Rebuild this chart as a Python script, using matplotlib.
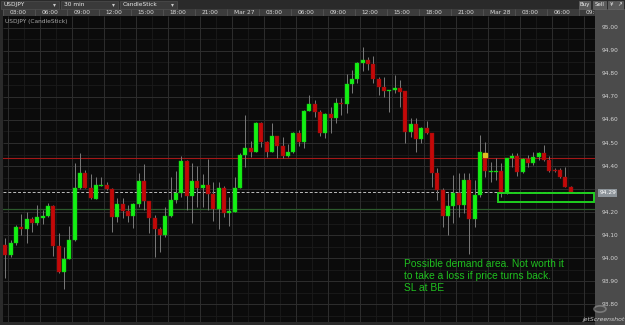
import matplotlib
matplotlib.use('Agg')
import matplotlib.pyplot as plt
from matplotlib.patches import Rectangle, Circle
import numpy as np

# USDJPY 30 min candles, Mar 26 02:30 -> Mar 28 07:30
opens = [94.055, 94.014, 94.067, 94.133, 94.125, 94.168, 94.153, 94.175, 94.184, 94.227,
         94.053, 93.938, 93.996, 94.078, 94.303, 94.370, 94.303, 94.258, 94.314, 94.319,
         94.299, 94.177, 94.233, 94.204, 94.184, 94.233, 94.333, 94.247, 94.174, 94.126,
         94.099, 94.181, 94.252, 94.284, 94.422, 94.270, 94.333, 94.303, 94.317, 94.278,
         94.214, 94.306, 94.194, 94.201, 94.306, 94.447, 94.477, 94.462, 94.588, 94.506,
         94.462, 94.530, 94.487, 94.443, 94.461, 94.542, 94.506, 94.639, 94.670, 94.636,
         94.542, 94.626, 94.607, 94.675, 94.670, 94.755, 94.777, 94.846, 94.861, 94.842,
         94.777, 94.742, 94.726, 94.729, 94.738, 94.725, 94.549, 94.583, 94.517, 94.564,
         94.542, 94.371, 94.297, 94.183, 94.226, 94.281, 94.230, 94.339, 94.168, 94.274,
         94.458, 94.375, 94.375, 94.378, 94.284, 94.433, 94.443, 94.375, 94.430, 94.412,
         94.438, 94.455, 94.426, 94.383, 94.383, 94.351, 94.310]
highs = [94.086, 94.078, 94.143, 94.191, 94.200, 94.180, 94.230, 94.209, 94.238, 94.230,
         94.107, 94.049, 94.139, 94.412, 94.455, 94.383, 94.365, 94.353, 94.353, 94.329,
         94.303, 94.260, 94.260, 94.230, 94.238, 94.368, 94.409, 94.249, 94.187, 94.136,
         94.223, 94.353, 94.380, 94.443, 94.426, 94.412, 94.400, 94.365, 94.429, 94.329,
         94.329, 94.313, 94.264, 94.353, 94.457, 94.622, 94.510, 94.593, 94.593, 94.508,
         94.588, 94.532, 94.525, 94.496, 94.549, 94.557, 94.643, 94.709, 94.687, 94.643,
         94.629, 94.658, 94.694, 94.694, 94.800, 94.817, 94.851, 94.916, 94.875, 94.878,
         94.788, 94.788, 94.732, 94.796, 94.774, 94.727, 94.607, 94.607, 94.571, 94.597,
         94.545, 94.390, 94.303, 94.281, 94.361, 94.368, 94.368, 94.368, 94.339, 94.535,
         94.503, 94.419, 94.433, 94.412, 94.435, 94.455, 94.455, 94.433, 94.448, 94.462,
         94.462, 94.491, 94.443, 94.390, 94.390, 94.394, 94.313]
lows = [93.914, 94.006, 94.057, 94.100, 94.067, 94.114, 94.143, 94.148, 94.180, 94.009,
        93.936, 93.864, 93.994, 94.075, 94.302, 94.303, 94.255, 94.255, 94.314, 94.296,
        94.114, 94.158, 94.173, 94.158, 94.132, 94.220, 94.209, 94.107, 94.003, 94.027,
        94.093, 94.180, 94.238, 94.267, 94.209, 94.153, 94.223, 94.223, 94.209, 94.162,
        94.126, 94.180, 94.139, 94.199, 94.304, 94.397, 94.440, 94.460, 94.484, 94.440,
        94.460, 94.436, 94.433, 94.441, 94.458, 94.487, 94.477, 94.637, 94.614, 94.530,
        94.520, 94.542, 94.588, 94.622, 94.632, 94.719, 94.760, 94.814, 94.817, 94.760,
        94.709, 94.701, 94.636, 94.716, 94.655, 94.499, 94.527, 94.462, 94.499, 94.540,
        94.310, 94.252, 94.136, 94.100, 94.151, 94.177, 94.194, 94.017, 94.136, 94.267,
        94.353, 94.332, 94.339, 94.267, 94.278, 94.397, 94.357, 94.368, 94.397, 94.404,
        94.426, 94.423, 94.375, 94.374, 94.347, 94.310, 94.287]
closes = [94.014, 94.067, 94.133, 94.125, 94.168, 94.153, 94.177, 94.184, 94.227, 94.053,
          93.938, 93.996, 94.078, 94.303, 94.370, 94.306, 94.260, 94.316, 94.319, 94.299,
          94.177, 94.233, 94.206, 94.184, 94.233, 94.333, 94.247, 94.175, 94.126, 94.099,
          94.181, 94.252, 94.284, 94.422, 94.270, 94.333, 94.303, 94.317, 94.278, 94.214,
          94.306, 94.194, 94.203, 94.306, 94.447, 94.477, 94.462, 94.588, 94.506, 94.462,
          94.530, 94.487, 94.443, 94.461, 94.542, 94.506, 94.639, 94.670, 94.636, 94.542,
          94.626, 94.607, 94.675, 94.670, 94.755, 94.777, 94.849, 94.861, 94.842, 94.777,
          94.742, 94.726, 94.730, 94.738, 94.723, 94.549, 94.583, 94.517, 94.564, 94.542,
          94.371, 94.297, 94.183, 94.226, 94.281, 94.230, 94.339, 94.168, 94.274, 94.460,
          94.378, 94.380, 94.380, 94.284, 94.433, 94.443, 94.375, 94.430, 94.412, 94.438,
          94.455, 94.426, 94.378, 94.378, 94.351, 94.310, 94.288]

time_labels = ["03:00", "06:00", "09:00", "12:00", "15:00", "18:00", "21:00", "Mar 27",
               "03:00", "06:00", "09:00", "12:00", "15:00", "18:00", "21:00", "Mar 28",
               "03:00", "06:00", "09:00"]
price_ticks = [93.8, 93.9, 94.0, 94.1, 94.2, 94.4, 94.5, 94.6, 94.7, 94.8, 94.9, 95.0]

resistance = 94.435
support = 94.212
zone_top, zone_bottom, zone_start = 94.284, 94.243, 92.4
entry_marker = (90, 94.446)
note = "Possible demand area. Not worth it\nto take a loss if price turns back.\nSL at BE"

W, H = 625, 325
def fx(px): return px / W
def fy(py): return 1 - py / H

fig = plt.figure(figsize=(6.25, 3.25), dpi=100, facecolor='#2a2a2a')
XL = (-0.44, 110.57)
YL = (93.722, 95.052)

# right price panel background (behind everything)
fig.patches.append(Rectangle((fx(595), 0), fx(30), fy(9), transform=fig.transFigure,
                             facecolor='#4b4b4b', edgecolor='none', zorder=-5))

# main chart
ax = fig.add_axes([fx(3), fy(322), fx(592), 306 / H])
ax.set_facecolor('#0b0b0b')
ax.set_xlim(*XL)
ax.set_ylim(*YL)
ax.set_xticks([])
ax.set_yticks([])
for s in ax.spines.values():
    s.set_visible(False)

vmaj = np.arange(0.5, 111, 6)
vmin = np.arange(3.5, 111, 6)
hmaj = np.arange(93.8, 95.05, 0.1)
hmin = np.arange(93.75, 95.05, 0.1)
ax.vlines(vmin, *YL, color='#1b1b1b', lw=0.6, zorder=1)
ax.hlines(hmin, *XL, color='#1b1b1b', lw=0.6, zorder=1)
ax.vlines(vmaj, *YL, color='#2e2e2e', lw=0.7, zorder=1)
ax.hlines(hmaj, *XL, color='#2e2e2e', lw=0.7, zorder=1)

o = np.array(opens); c = np.array(closes)
x = np.arange(len(o))
up = c >= o
ax.vlines(x, lows, highs, color='#7a7a7a', lw=0.7, zorder=3)
body_bot = np.minimum(o, c)
body_h = np.maximum(np.abs(c - o), 0.004)
ax.bar(x, body_h, bottom=body_bot, width=0.76,
       color=np.where(up, '#14f014', '#c40808'),
       edgecolor=np.where(up, '#10c010', '#8a1010'), lw=0.3, zorder=4)

ax.axhline(resistance, color='#a41818', lw=0.8, zorder=2)
ax.axhline(support, color='#2c5a2c', lw=0.9, zorder=2)
ax.axhline(closes[-1], color='#bdbdbd', lw=0.7, ls=(0, (3, 2)), zorder=2)
ax.add_patch(Rectangle((zone_start, zone_bottom), XL[1] - 0.2 - zone_start,
                       zone_top - zone_bottom, fill=False, edgecolor='#1fd01f',
                       lw=1.4, zorder=5))
ax.plot(*entry_marker, 's', ms=2.2, color='#e0c020', zorder=6)

ax.text(74.75, 93.994, note, color='#1fbf1f', fontsize=7.4,
        family='Liberation Sans', va='top', ha='left', linespacing=1.22, zorder=6)
ax.text(0.0, 95.040, "USDJPY (CandleStick)", color='#a8a8a8', fontsize=4.2,
        va='top', ha='left', zorder=6)

# time axis row
axt = fig.add_axes([fx(3), fy(16), fx(592), 7 / H])
axt.set_facecolor('#3c3c3c')
axt.set_xlim(*XL)
axt.set_ylim(0, 1)
axt.set_xticks([]); axt.set_yticks([])
for s in axt.spines.values():
    s.set_visible(False)
for k, lab in enumerate(time_labels):
    gx = 0.5 + 6 * k
    axt.text(gx + 0.35, 0.45, lab, color='#d8d8d8', fontsize=4.2,
             ha='left', va='center', clip_on=True)
    axt.vlines(gx - 0.95, 0, 1, color='#555555', lw=0.6)

# price panel
axp = fig.add_axes([fx(595), fy(322), fx(30), 306 / H])
axp.set_facecolor('#4b4b4b')
axp.set_ylim(*YL)
axp.set_xlim(0, 1)
axp.set_xticks([]); axp.set_yticks([])
for s in axp.spines.values():
    s.set_visible(False)
for p in price_ticks:
    axp.text(0.5, p, f"{p:.2f}", color='#d4d4d4', fontsize=4.2, ha='center', va='center')
axp.text(0.42, closes[-1] - 0.004, f"{closes[-1]:.2f}", color='#ffffff', fontsize=4.2,
         ha='center', va='center',
         bbox=dict(boxstyle='square,pad=0.25', fc='#8d949a', ec='none'))

# top toolbar
def box(x0, x1, y0, y1, fc, ec='#555555'):
    fig.patches.append(Rectangle((fx(x0), fy(y1)), fx(x1 - x0), (y1 - y0) / H,
                                 transform=fig.transFigure, facecolor=fc,
                                 edgecolor=ec, lw=0.4))

for x0, x1, lab in [(1, 59, "USDJPY"), (61, 118, "30 min"), (120, 177, "CandleStick")]:
    box(x0, x1, 0.5, 8.5, '#3a3a3a')
    fig.text(fx(x0 + 3), fy(4.6), lab, color='#e8e8e8', fontsize=4.2, va='center')
    fig.text(fx(x1 - 5), fy(4.6), "▾", color='#cccccc', fontsize=4.2,
             va='center', ha='center')
for x0, x1, lab in [(579, 590, "Buy"), (593, 606, "Sell"), (608, 615, "¥"), (616, 623, "↗")]:
    box(x0, x1, 0.5, 8.5, '#5a5a5a', ec='#707070')
    fig.text(fx((x0 + x1) / 2), fy(4.6), lab, color='#f0f0f0', fontsize=4.0,
             va='center', ha='center')

# watermark
fig.patches.append(Circle((fx(600), fy(309)), 6 / W, transform=fig.transFigure,
                          fill=False, edgecolor='#9a9a9a', lw=1.2, alpha=0.6))
fig.text(fx(604), fy(320), "jetScreenshot", color='#d0d0d0', fontsize=4.4,
         ha='center', va='center', style='italic')

fig.savefig('out.png', dpi=100, facecolor=fig.get_facecolor())
